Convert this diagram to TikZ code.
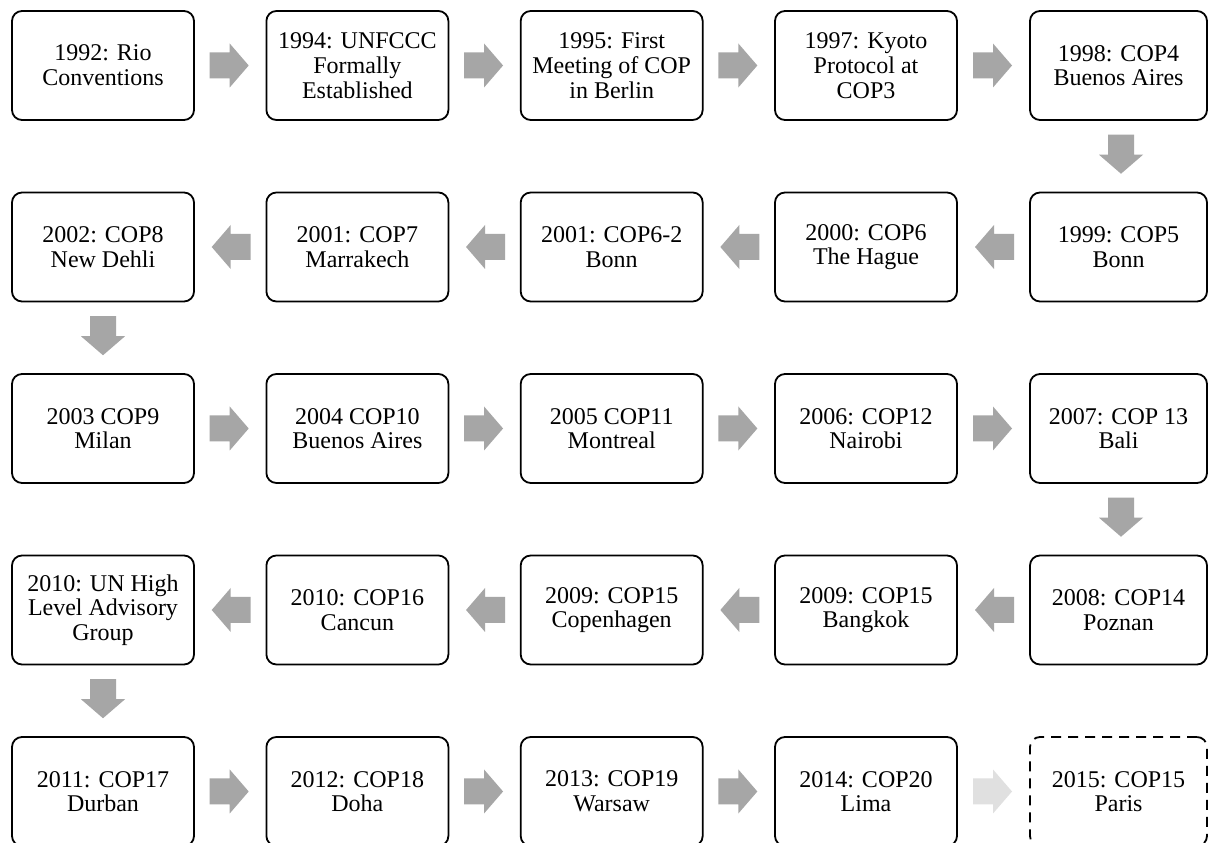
\documentclass[tikz,border=0pt]{standalone}
\usepackage{fontspec}
\setmainfont{Liberation Serif}
\usetikzlibrary{calc}
\definecolor{arrgray}{HTML}{A6A6A6}
\definecolor{arrlight}{HTML}{E0E0E0}
\tikzset{
  evt/.style={draw=black, line width=1.8pt, rounded corners=10pt,
    minimum width=182pt, minimum height=109pt, align=center,
    font=\fontsize{24}{24.7}\selectfont, inner sep=2pt, fill=white},
  evtlast/.style={evt, minimum width=177pt},
  future/.style={evtlast, dash pattern=on 10pt off 7pt},
  flowarr/.pic={\fill[pic actions] (-19.5,-13) -- (0.5,-13) -- (0.5,-22) -- (19.5,0)
      -- (0.5,22) -- (0.5,13) -- (-19.5,13) -- cycle;},
}
\newcommand\toright[3][arrgray]{\pic[fill=#1] at ($(#2.east)!0.5!(#3.west)+(-1,0)$) {flowarr};}
\newcommand\toleft[3][arrgray]{\pic[fill=#1,rotate=180] at ($(#2.west)!0.5!(#3.east)+(1,0)$) {flowarr};}
\newcommand\todown[3][0]{\pic[fill=arrgray,rotate=-90] at ($(#2.south)!0.5!(#3.north)+(#1,2)$) {flowarr};}
\begin{document}
\begin{tikzpicture}[x=1pt,y=1pt]
\useasboundingbox (0,0) rectangle (1208,843);
\clip (0,0) rectangle (1208,843);
\fill[white] (0,0) rectangle (1208,843);
% row 1
\node[evt] (n1) at (103,777.5) {1992: Rio\\Conventions};
\node[evt] (n2) at (357.4,777.5) {1994: UNFCCC\\Formally\\Established};
\node[evt] (n3) at (611.7,777.5) {1995: First\\Meeting of COP\\in Berlin};
\node[evt] (n4) at (866,777.5) {1997: Kyoto\\Protocol at\\COP3};
\node[evtlast] (n5) at (1118.5,777.5) {1998: COP4\\Buenos Aires};
% row 2
\node[evtlast] (n6) at (1118.5,596) {1999: COP5\\Bonn};
\node[evt] (n7) at (866,596) {2000: COP6\\The Hague};
\node[evt] (n8) at (611.7,596) {2001: COP6-2\\Bonn};
\node[evt] (n9) at (357.4,596) {2001: COP7\\Marrakech};
\node[evt] (n10) at (103,596) {2002: COP8\\New Dehli};
% row 3
\node[evt] (n11) at (103,414.5) {2003 COP9\\Milan};
\node[evt] (n12) at (357.4,414.5) {2004 COP10\\Buenos Aires};
\node[evt] (n13) at (611.7,414.5) {2005 COP11\\Montreal};
\node[evt] (n14) at (866,414.5) {2006: COP12\\Nairobi};
\node[evtlast] (n15) at (1118.5,414.5) {2007: COP 13\\Bali};
% row 4
\node[evtlast] (n16) at (1118.5,233) {2008: COP14\\Poznan};
\node[evt] (n17) at (866,233) {2009: COP15\\Bangkok};
\node[evt] (n18) at (611.7,233) {2009: COP15\\Copenhagen};
\node[evt] (n19) at (357.4,233) {2010: COP16\\Cancun};
\node[evt] (n20) at (103,233) {2010: UN High\\Level Advisory\\Group};
% row 5
\node[evt] (n21) at (103,51.5) {2011: COP17\\Durban};
\node[evt] (n22) at (357.4,51.5) {2012: COP18\\Doha};
\node[evt] (n23) at (611.7,51.5) {2013: COP19\\Warsaw};
\node[evt] (n24) at (866,51.5) {2014: COP20\\Lima};
\node[future] (n25) at (1118.5,51.5) {2015: COP15\\Paris};
% connectors
\toright{n1}{n2} \toright{n2}{n3} \toright{n3}{n4} \toright{n4}{n5}
\todown[2.5]{n5}{n6}
\toleft{n6}{n7} \toleft{n7}{n8} \toleft{n8}{n9} \toleft{n9}{n10}
\todown[0]{n10}{n11}
\toright{n11}{n12} \toright{n12}{n13} \toright{n13}{n14} \toright{n14}{n15}
\todown[2.5]{n15}{n16}
\toleft{n16}{n17} \toleft{n17}{n18} \toleft{n18}{n19} \toleft{n19}{n20}
\todown[0]{n20}{n21}
\toright{n21}{n22} \toright{n22}{n23} \toright{n23}{n24} \toright[arrlight]{n24}{n25}
\end{tikzpicture}
\end{document}
